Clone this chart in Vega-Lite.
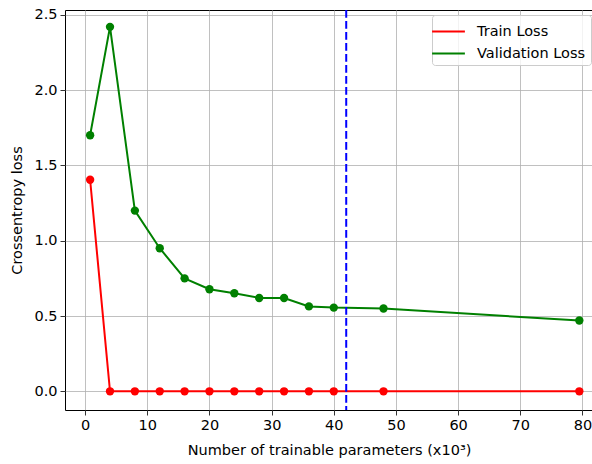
{
  "$schema": "https://vega.github.io/schema/vega-lite/v6.json",
  "width": 528,
  "height": 400,
  "autosize": {"type": "none"},
  "padding": {"left": 65, "top": 10, "right": 0, "bottom": 54},
  "background": "white",
  "config": {
    "font": "DejaVu Sans",
    "view": {"stroke": "black", "strokeWidth": 1},
    "axis": {
      "grid": true,
      "gridColor": "#b0b0b0",
      "gridWidth": 0.8,
      "domain": false,
      "tickColor": "black",
      "tickSize": 5,
      "tickWidth": 0.8,
      "labelFontSize": 14.5,
      "labelColor": "#000000",
      "labelPadding": 3,
      "titleFontSize": 14.5,
      "titleFontWeight": "normal",
      "titleColor": "#000000"
    }
  },
  "datasets": {
    "losses": [
      {"params": 0.8, "loss": 1.405, "series": "Train Loss"},
      {"params": 4.0, "loss": 0.0, "series": "Train Loss"},
      {"params": 8.0, "loss": 0.0, "series": "Train Loss"},
      {"params": 12.0, "loss": 0.0, "series": "Train Loss"},
      {"params": 16.0, "loss": 0.0, "series": "Train Loss"},
      {"params": 20.0, "loss": 0.0, "series": "Train Loss"},
      {"params": 24.0, "loss": 0.0, "series": "Train Loss"},
      {"params": 28.0, "loss": 0.0, "series": "Train Loss"},
      {"params": 32.0, "loss": 0.0, "series": "Train Loss"},
      {"params": 36.0, "loss": 0.0, "series": "Train Loss"},
      {"params": 40.0, "loss": 0.0, "series": "Train Loss"},
      {"params": 48.0, "loss": 0.0, "series": "Train Loss"},
      {"params": 79.5, "loss": 0.0, "series": "Train Loss"},
      {"params": 0.8, "loss": 1.70, "series": "Validation Loss"},
      {"params": 4.0, "loss": 2.42, "series": "Validation Loss"},
      {"params": 8.0, "loss": 1.20, "series": "Validation Loss"},
      {"params": 12.0, "loss": 0.95, "series": "Validation Loss"},
      {"params": 16.0, "loss": 0.75, "series": "Validation Loss"},
      {"params": 20.0, "loss": 0.678, "series": "Validation Loss"},
      {"params": 24.0, "loss": 0.651, "series": "Validation Loss"},
      {"params": 28.0, "loss": 0.62, "series": "Validation Loss"},
      {"params": 32.0, "loss": 0.62, "series": "Validation Loss"},
      {"params": 36.0, "loss": 0.564, "series": "Validation Loss"},
      {"params": 40.0, "loss": 0.556, "series": "Validation Loss"},
      {"params": 48.0, "loss": 0.55, "series": "Validation Loss"},
      {"params": 79.5, "loss": 0.47, "series": "Validation Loss"}
    ],
    "marker": [{"params": 42}]
  },
  "layer": [
    {
      "data": {"name": "losses"},
      "mark": {"type": "line", "strokeWidth": 2},
      "encoding": {
        "x": {
          "field": "params",
          "type": "quantitative",
          "scale": {"domain": [-3.24, 81.7], "nice": false, "zero": false},
          "axis": {"values": [0, 10, 20, 30, 40, 50, 60, 70, 80], "title": "Number of trainable parameters (x10³)", "titlePadding": 12}
        },
        "y": {
          "field": "loss",
          "type": "quantitative",
          "scale": {"domain": [-0.124, 2.532], "nice": false, "zero": false},
          "axis": {"values": [0, 0.5, 1, 1.5, 2, 2.5], "format": ".1f", "title": "Crossentropy loss", "titlePadding": 9}
        },
        "color": {
          "field": "series",
          "type": "nominal",
          "scale": {"domain": ["Train Loss", "Validation Loss"], "range": ["#ff0000", "#008000"]},
          "legend": {
            "orient": "none",
            "legendX": 367,
            "legendY": 5,
            "title": null,
            "symbolType": "M-1.6,0H1.6",
            "symbolSize": 420,
            "symbolStrokeWidth": 2,
            "labelFontSize": 14.5,
            "labelColor": "#000000",
            "labelOffset": 17,
            "rowPadding": 4,
            "padding": 5,
            "fillColor": "rgba(255,255,255,0.8)",
            "strokeColor": "#cccccc",
            "cornerRadius": 3
          }
        }
      }
    },
    {
      "data": {"name": "losses"},
      "mark": {"type": "point", "filled": true, "opacity": 1, "size": 70},
      "encoding": {
        "x": {"field": "params", "type": "quantitative"},
        "y": {"field": "loss", "type": "quantitative"},
        "color": {"field": "series", "type": "nominal", "legend": null}
      }
    },
    {
      "data": {"name": "marker"},
      "mark": {"type": "rule", "color": "#0000ff", "strokeWidth": 2, "strokeDash": [7.7, 3.3]},
      "encoding": {
        "x": {"field": "params", "type": "quantitative"}
      }
    }
  ]
}
